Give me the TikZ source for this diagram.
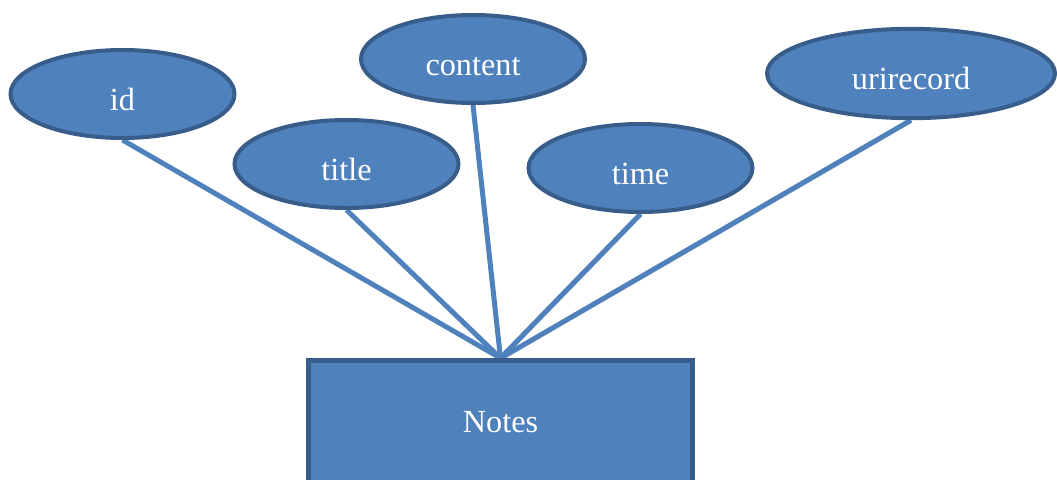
\documentclass[tikz,border=0pt]{standalone}
\usepackage{fontspec}
\setmainfont{Liberation Serif}
\usetikzlibrary{shapes.geometric, backgrounds}
\definecolor{entityblue}{HTML}{4F81BD}
\definecolor{entityedge}{HTML}{385D8A}
\tikzset{
x=0.75pt, y=-0.75pt, % one unit is one pixel of the layout, y grows downwards
attribute/.style={ellipse, draw=entityedge, fill=entityblue, line width=3pt,
  inner sep=0pt, minimum width=168pt, minimum height=66pt,
  text=white, font=\fontsize{24.2}{28}\selectfont,
  text height=24pt, text depth=0pt}, % pushes the text a little below the middle
entity/.style={rectangle, draw=entityedge, fill=entityblue, line width=3.75pt,
  minimum width=288pt, minimum height=92pt,
  text=white, font=\fontsize{24.2}{28}\selectfont},
link/.style={draw=entityblue, line width=3.75pt,
  preaction={draw=black!18, transform canvas={shift={(1.2pt,-1.5pt)}}}}, % soft shadow
}

\begin{document}
\begin{tikzpicture}
    \useasboundingbox (0,0) rectangle (1057,479);

    \node[attribute] (id)        at (122.5,94)  {id};
    \node[attribute] (title)     at (346.5,164) {title};
    \node[attribute] (content)   at (473,59)    {content};
    \node[attribute] (time)      at (640.5,168) {time};
    \node[attribute, minimum width=216pt, minimum height=67pt] (urirecord) at (911,73.5) {urirecord};
    \node[entity] (notes) at (500.5,422) {Notes};

    \begin{scope}[on background layer]
        \draw[link] (id.south)        -- (notes.north);
        \draw[link] (title.south)     -- (notes.north);
        \draw[link] (content.south)   -- (notes.north);
        \draw[link] (time.south)      -- (notes.north);
        \draw[link] (urirecord.south) -- (notes.north);
    \end{scope}
\end{tikzpicture}
\end{document}
